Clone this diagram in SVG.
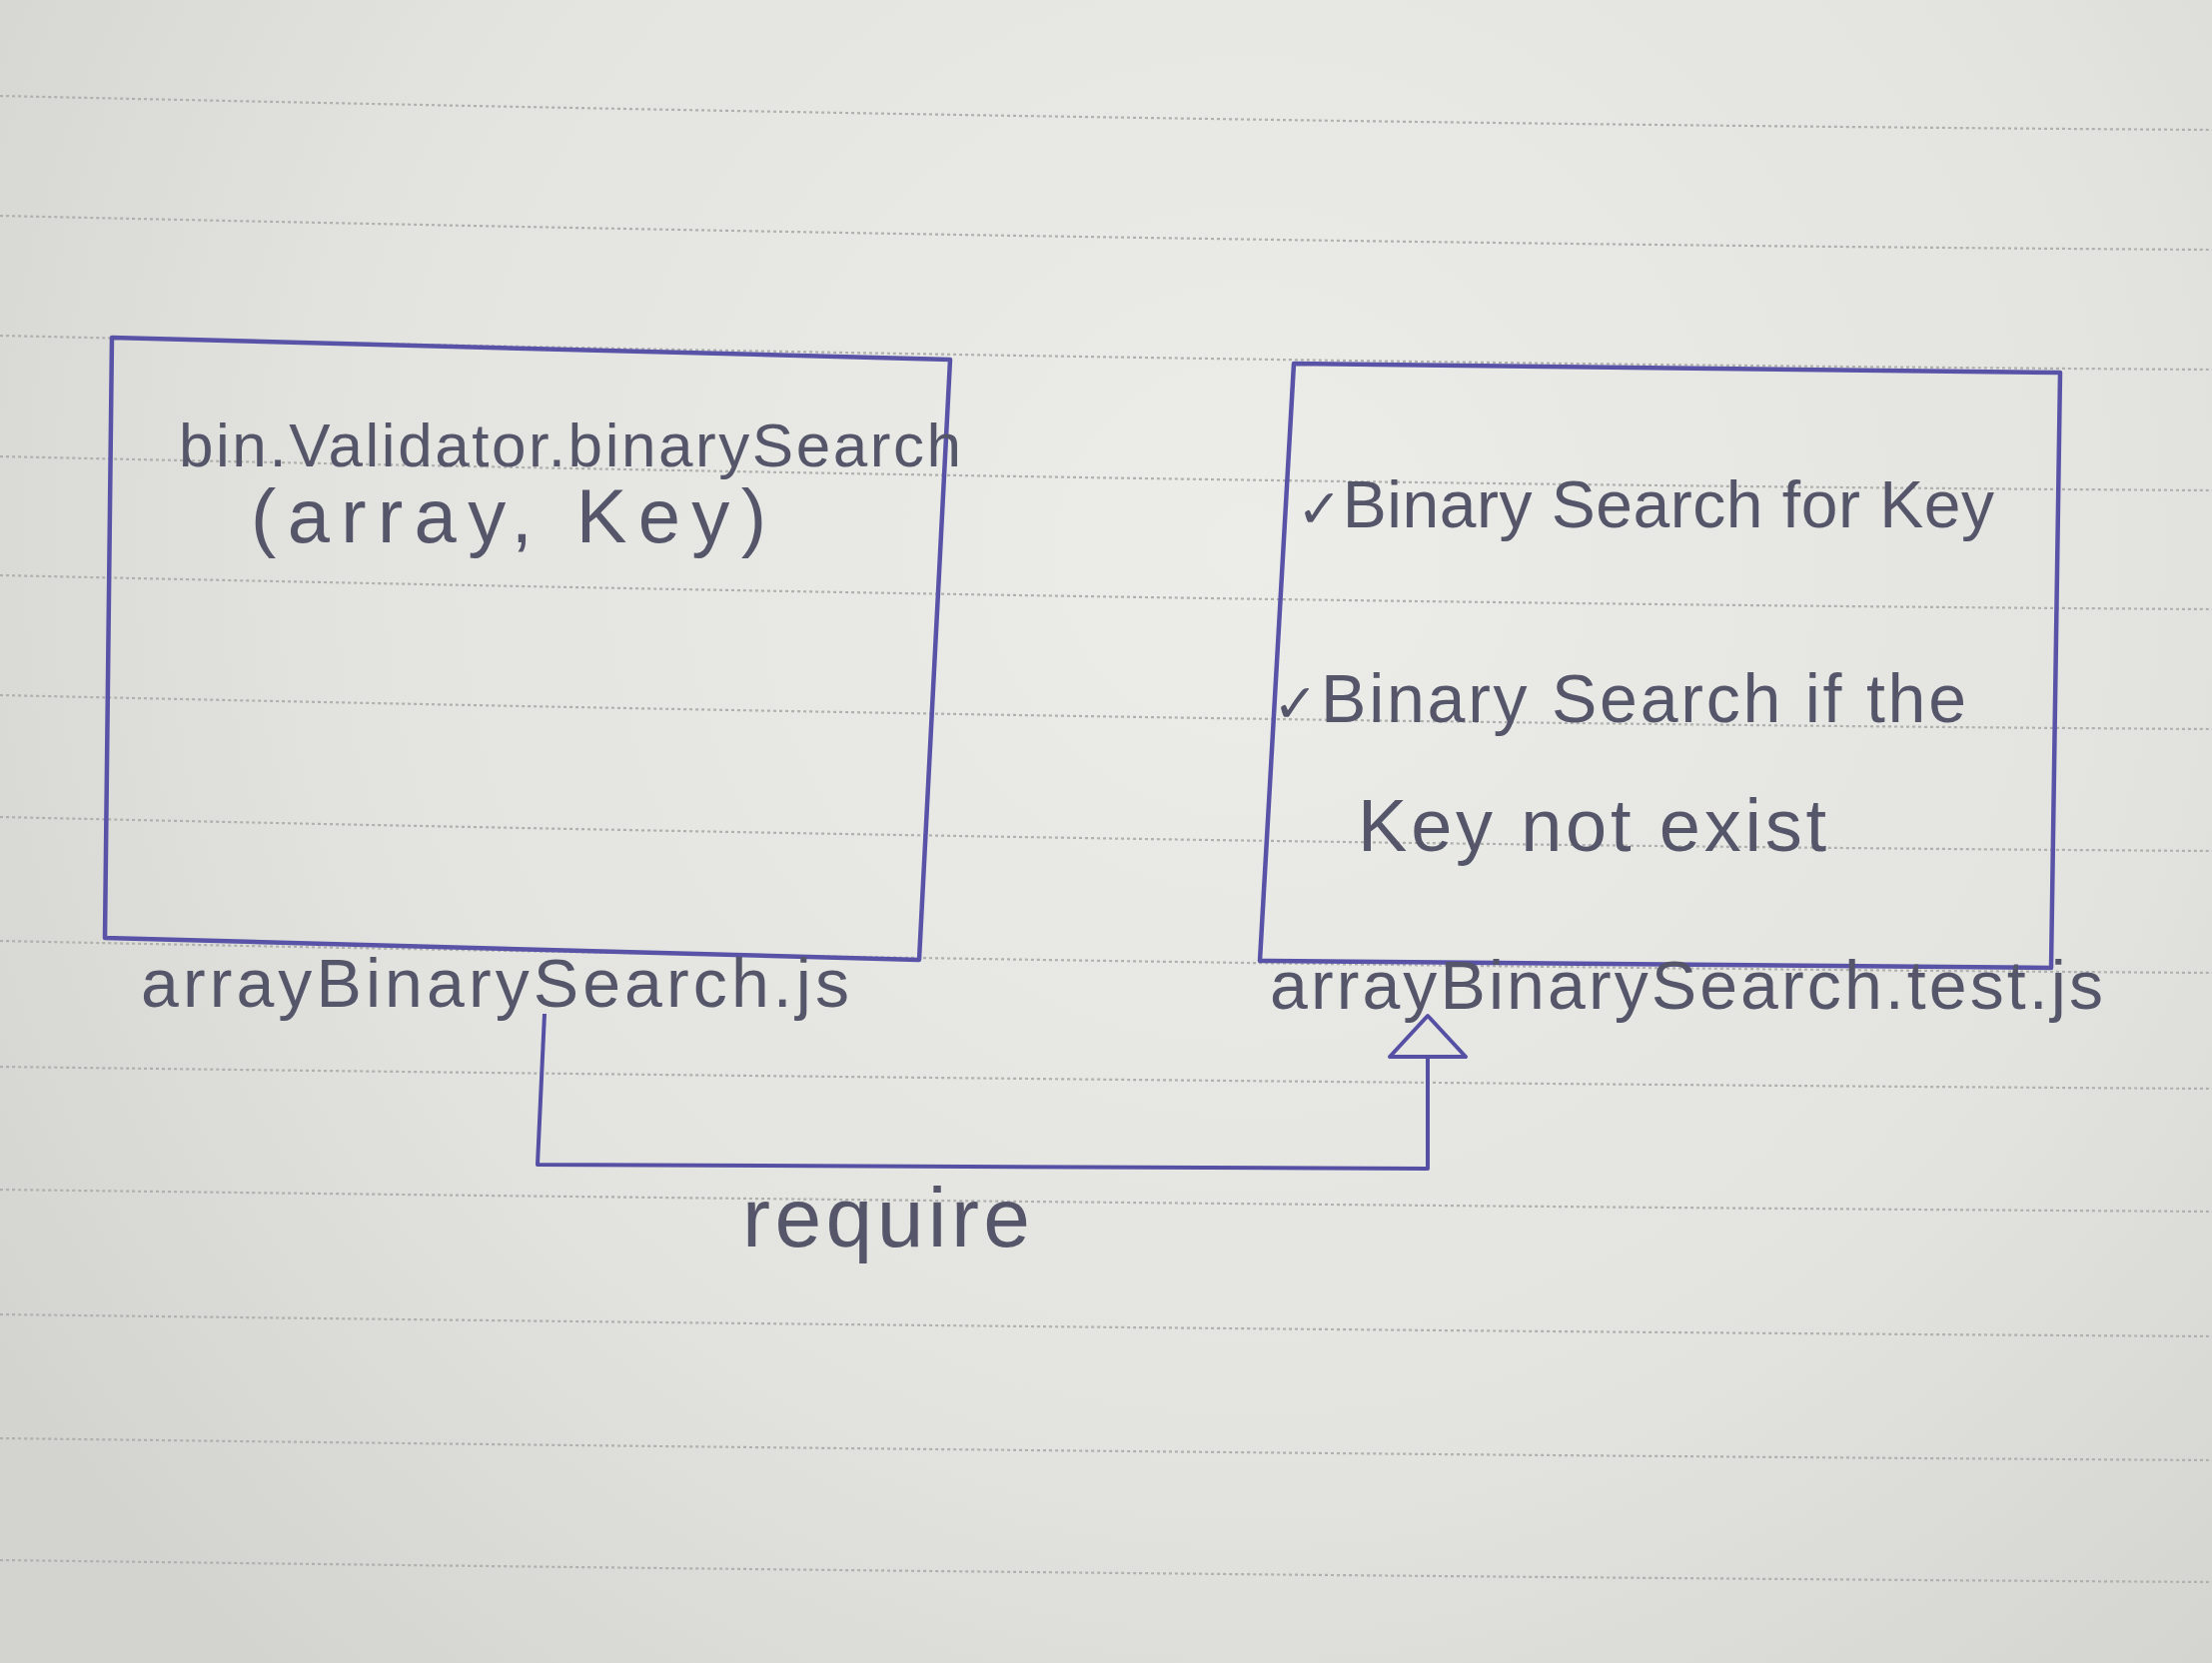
<svg xmlns="http://www.w3.org/2000/svg" width="2214" height="1665" viewBox="0 0 2214 1665">
<defs>
<radialGradient id="paper" cx="1250" cy="550" r="1500" gradientUnits="userSpaceOnUse">
<stop offset="0" stop-color="#ecede9"/>
<stop offset="0.6" stop-color="#e3e4e0"/>
<stop offset="1" stop-color="#d3d4d0"/>
</radialGradient>
<marker id="hollow" markerUnits="userSpaceOnUse" viewBox="-4 -44 52 88" markerWidth="52" markerHeight="88" refX="0" refY="0" orient="auto">
<path d="M0,-38 L41,0 L0,38 Z" fill="#e6e7e3" stroke="#5650a4" stroke-width="4" stroke-linejoin="round"/>
</marker>
<style>
.rule{fill:none;stroke:#b0b0ae;stroke-width:2.2;stroke-dasharray:3 3}
.box{fill:none;stroke:#5953a8;stroke-width:4.5;stroke-linejoin:round}
.ink{fill:#56566a;font-family:"Liberation Sans",Arial,sans-serif}
.chk{font-family:"DejaVu Sans",sans-serif}
.conn{fill:none;stroke:#5650a4;stroke-width:4;stroke-linejoin:round}
</style>
</defs>
<rect width="2214" height="1665" fill="url(#paper)"/>
<g id="ruled-paper">
<path class="rule" d="M0,96 Q1250,124 2214,130 M0,216 Q1250,244 2214,250 M0,336 Q1250,364 2214,370 M0,457 Q1250,485 2214,491 M0,576 Q1250,604 2214,610 M0,696 Q1250,724 2214,730 M0,818 Q1250,846 2214,852 M0,942 Q1250,968 2214,974 M0,1068 Q1250,1084 2214,1090 M0,1191 Q1250,1207 2214,1213 M0,1316 Q1250,1332 2214,1338 M0,1440 Q1250,1456 2214,1462 M0,1562 Q1250,1578 2214,1584"/>
</g>
<g id="node-arrayBinarySearch">
<path class="box" d="M112,338 L951,360 L920,961 L105,939 Z"/>
<text class="ink" x="179" y="467" font-size="62" textLength="783">bin.Validator.binarySearch</text>
<text class="ink" x="251" y="543" font-size="76" textLength="516">(array, Key)</text>
<text class="ink" x="141" y="1008" font-size="68" textLength="709">arrayBinarySearch.js</text>
</g>
<g id="node-arrayBinarySearchTest">
<path class="box" d="M1295,364 L2062,373 L2053,969 L1261,962 Z"/>
<text class="ink" x="1298" y="528" font-size="66" textLength="698"><tspan class="chk" font-size="54">✓</tspan>Binary Search for Key</text>
<text class="ink" x="1274" y="723" font-size="68" textLength="694"><tspan class="chk" font-size="54">✓</tspan>Binary Search if the</text>
<text class="ink" x="1359" y="852" font-size="74" textLength="469">Key not exist</text>
<text class="ink" x="1271" y="1010" font-size="68" textLength="834">arrayBinarySearch.test.js</text>
</g>
<g id="connectors">
<path class="conn" d="M545,1015 L538,1166 L1429,1170 L1429,1058" marker-end="url(#hollow)"/>
<text class="ink" x="743" y="1248" font-size="84" textLength="288">require</text>
</g>
</svg>
